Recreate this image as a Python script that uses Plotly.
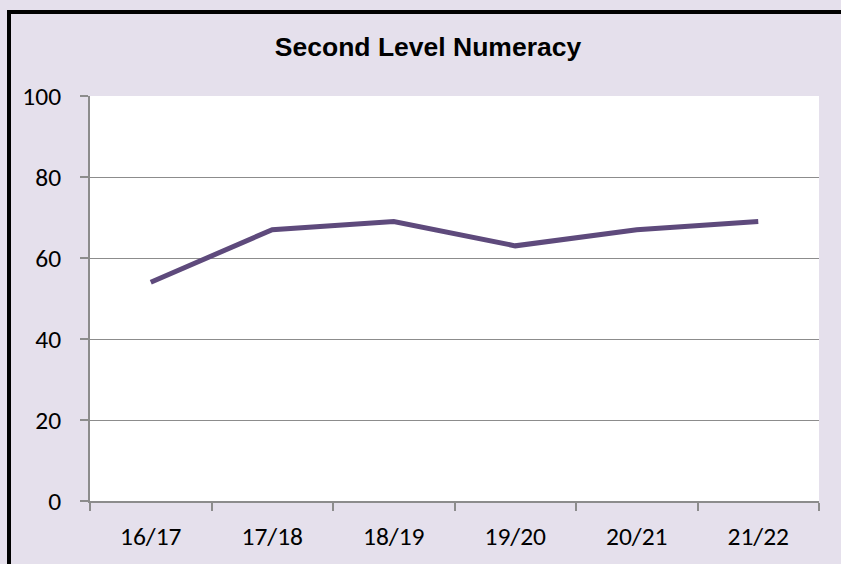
import plotly.graph_objects as go

categories = ["16/17", "17/18", "18/19", "19/20", "20/21", "21/22"]
values = [54, 67, 69, 63, 67, 69]
y_ticks = [0, 20, 40, 60, 80, 100]

W, H = 841, 564
L, R, T, B = 90, 22, 96, 60
pw, ph = W - L - R, H - T - B

def px_x(x):
    return (x - L) / pw

def px_y(y):
    return (H - B - y) / ph

fig = go.Figure()
fig.add_trace(go.Scatter(
    x=categories, y=values, mode="lines",
    line=dict(color="#5E4A7C", width=5),
    hoverinfo="x+y",
))

border = dict(color="#000000", width=4)
fig.update_layout(
    width=W, height=H,
    margin=dict(l=L, r=R, t=T, b=B),
    paper_bgcolor="#E5E0EC",
    plot_bgcolor="#FFFFFF",
    showlegend=False,
    title=dict(text="<b>Second Level Numeracy</b>", x=px_x(428), xref="paper", xanchor="center",
               y=1 - 46.5 / H, yanchor="middle",
               font=dict(family="Liberation Sans, Arial", size=26.5, color="#000000")),
    font=dict(family="Carlito, Calibri, Lato, sans-serif", size=25.5, color="#000000"),
    xaxis=dict(
        type="category", tickson="boundaries", ticks="outside", ticklen=8,
        tickcolor="#8C8C8C", tickwidth=1.5,
        showline=True, linecolor="#8C8C8C", linewidth=1.5,
        showgrid=False, zeroline=False, range=[-0.5, 5.5],
        ticklabelstandoff=12,
    ),
    yaxis=dict(
        range=[0, 100], tickvals=y_ticks, ticks="outside", ticklen=8,
        tickcolor="#8C8C8C", tickwidth=1.5,
        showline=True, linecolor="#8C8C8C", linewidth=1.5,
        showgrid=True, gridcolor="#8C8C8C", gridwidth=1.2, zeroline=False,
        ticklabelstandoff=14,
    ),
    shapes=[
        dict(type="line", xref="paper", yref="paper",
             x0=px_x(9), x1=px_x(9), y0=px_y(570), y1=px_y(9.5),
             line=border, layer="above"),
        dict(type="line", xref="paper", yref="paper",
             x0=px_x(7), x1=px_x(843), y0=px_y(11.5), y1=px_y(11.5),
             line=border, layer="above"),
    ],
)

fig.write_html(
    "out.html", config={"displayModeBar": False},
    post_script=("document.body.style.margin='0px';"
                 "document.body.style.overflow='hidden';"
                 "document.documentElement.style.overflow='hidden';"),
)
